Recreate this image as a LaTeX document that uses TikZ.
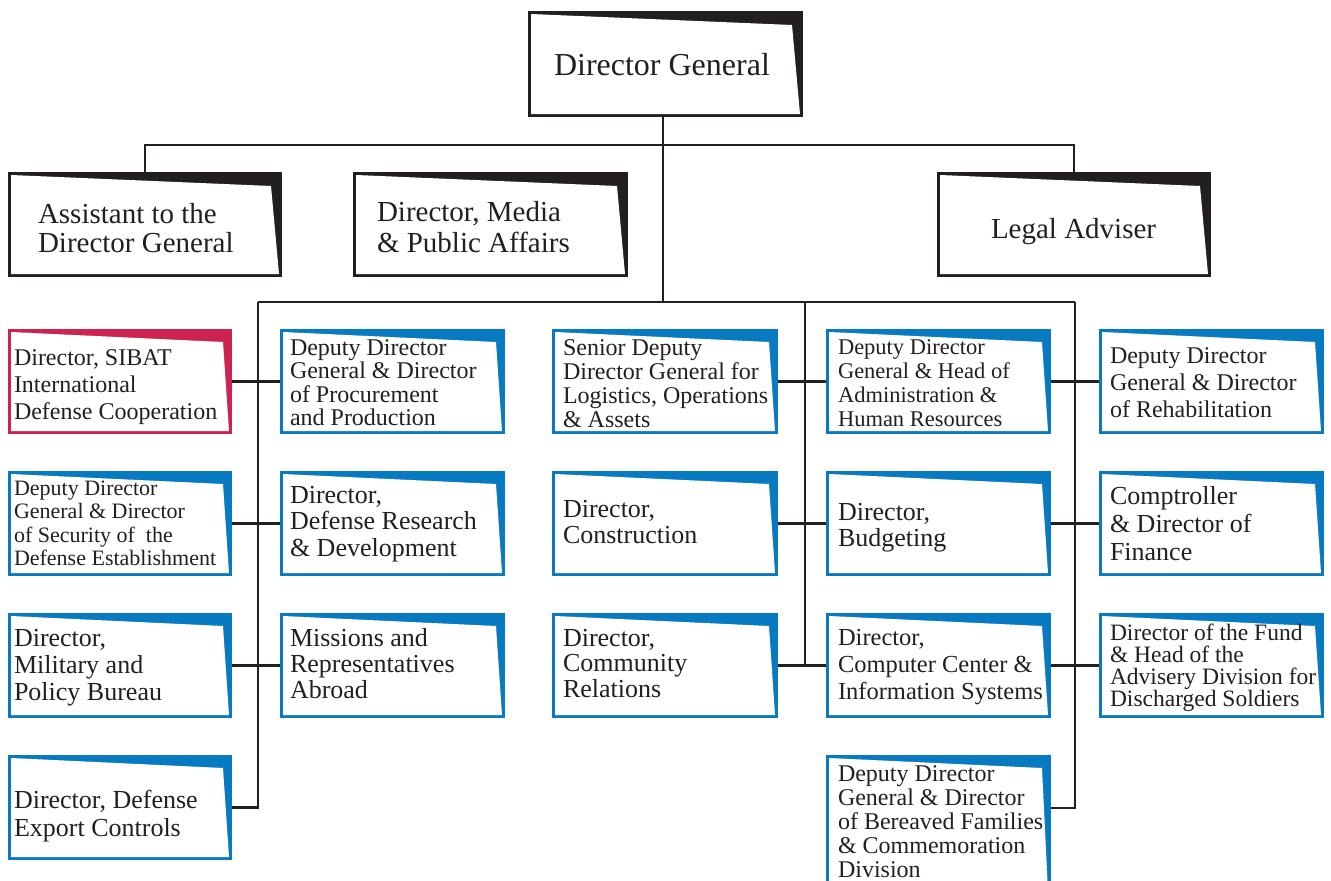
\documentclass[tikz,border=0pt]{standalone}
\usepackage{fontspec}
\setmainfont{Liberation Serif}
\definecolor{ink}{RGB}{35,31,32}
\definecolor{mblue}{RGB}{8,122,194}
\definecolor{mred}{RGB}{204,35,80}
\tikzset{
  obox/.style n args={3}{rectangle, inner sep=0pt, outer sep=0pt, fill=#1,
    path picture={\fill[white]
      ([xshift=3pt,yshift=-3pt]path picture bounding box.north west)
      -- ([xshift=-#2,yshift=-#3]path picture bounding box.north east)
      -- ([xshift=-3pt,yshift=3pt]path picture bounding box.south east)
      -- ([xshift=3pt,yshift=3pt]path picture bounding box.south west) -- cycle;}},
  topbox/.style={obox={ink}{11pt}{14pt}},
  bluebox/.style={obox={mblue}{9pt}{13pt}},
  redbox/.style={obox={mred}{9pt}{13pt}},
  conn/.style={draw=ink, line width=2.8pt},
  txt/.style={inner sep=0pt, outer sep=0pt, align=left, anchor=base west, text=ink},
}
\newcommand\orgbox[6]{\node[#2, minimum width={(#5-#3)*1pt}, minimum height={(#6-#4)*1pt}] (#1) at ({(#3+#5)/2},{(#4+#6)/2}) {};}
% #4 = baseline of the last line
\newcommand\orgtext[5]{\node[txt, font=#2] (#1) at (#3,#4) {#5};}
\newcommand\fs[2]{\fontsize{#1}{#2}\selectfont}
\begin{document}
\begin{tikzpicture}[x=1pt,y=-1pt]
\clip (0,0) rectangle (1331,881);
\fill[white] (0,0) rectangle (1331,881);
% junction coordinates
\coordinate (topj) at (663,145);
\coordinate (midj) at (663,302);
\coordinate (L) at (258,302);
\coordinate (M) at (805,302);
\coordinate (R) at (1075,302);
\coordinate (Lb) at (258,807.5);
\coordinate (Mb) at (805,665.5);
\coordinate (Rb) at (1075,808);
% boxes
\orgbox{dg}{topbox}{528}{11}{803}{117}
\orgbox{asst}{topbox}{8}{172}{282}{277}
\orgbox{media}{topbox}{353}{172}{628}{277}
\orgbox{legal}{topbox}{937}{172}{1211}{277}
% column 1
\orgbox{a1}{redbox}{8}{329}{232}{434}
\orgbox{a2}{bluebox}{8}{471}{232}{576}
\orgbox{a3}{bluebox}{8}{613}{232}{718}
\orgbox{a4}{bluebox}{8}{755}{232}{860}
% column 2
\orgbox{b1}{bluebox}{280}{329}{505}{434}
\orgbox{b2}{bluebox}{280}{471}{505}{576}
\orgbox{b3}{bluebox}{280}{613}{505}{718}
% column 3
\orgbox{c1}{bluebox}{552}{329}{778}{434}
\orgbox{c2}{bluebox}{552}{471}{778}{576}
\orgbox{c3}{bluebox}{552}{613}{778}{718}
% column 4
\orgbox{d1}{bluebox}{826}{329}{1051}{434}
\orgbox{d2}{bluebox}{826}{471}{1051}{576}
\orgbox{d3}{bluebox}{826}{613}{1051}{718}
\orgbox{d4}{bluebox}{826}{755}{1051}{895}
% column 5
\orgbox{e1}{bluebox}{1099}{329}{1324}{434}
\orgbox{e2}{bluebox}{1099}{471}{1324}{576}
\orgbox{e3}{bluebox}{1099}{613}{1324}{718}
% connectors
\draw[conn] (dg.south -| midj) -- (midj);
\draw[conn] (asst) |- (topj) -| (legal);
\draw[conn] (L) -- (R);
\draw[conn] (L) -- (Lb) -- (a4);
\draw[conn] (M) -- (Mb);
\draw[conn] (R) -- (Rb) -- (d4.east |- Rb);
\draw[conn] (a1) -- (b1);
\draw[conn] (a2) -- (b2);
\draw[conn] (a3) -- (b3);
\draw[conn] (c1) -- (d1);
\draw[conn] (c2) -- (d2);
\draw[conn] (c3) -- (d3);
\draw[conn] (d1) -- (e1);
\draw[conn] (d2) -- (e2);
\draw[conn] (d3) -- (e3);
% texts
\orgtext{dg-t}{\fs{32}{36}}{554}{75}{Director General}
\orgtext{asst-t}{\fs{29}{29}}{38}{252}{Assistant to the\\Director General}
\orgtext{media-t}{\fs{29}{31}}{377}{252}{Director, Media\\\& Public Affairs}
\orgtext{legal-t}{\fs{29}{31}}{991}{238}{Legal Adviser}
\orgtext{a1-t}{\fs{24}{27}}{14}{419}{Director, SIBAT\\International\\Defense Cooperation}
\orgtext{a2-t}{\fs{22}{23.5}}{14}{565.5}{Deputy Director\\General \& Director\\of Security of\ \ the\\Defense Establishment}
\orgtext{a3-t}{\fs{26}{27}}{14}{700}{Director,\\Military and\\Policy Bureau}
\orgtext{a4-t}{\fs{26}{28}}{14}{836}{Director, Defense\\Export Controls}
\orgtext{b1-t}{\fs{24}{23.5}}{290}{425.5}{Deputy Director\\General \& Director\\of Procurement\\and Production}
\orgtext{b2-t}{\fs{26}{26.5}}{290}{556}{Director,\\Defense Research\\\& Development}
\orgtext{b3-t}{\fs{26}{26}}{290}{698}{Missions and\\Representatives\\Abroad}
\orgtext{c1-t}{\fs{24}{24}}{563}{427}{Senior Deputy\\Director General for\\Logistics, Operations\\\& Assets}
\orgtext{c2-t}{\fs{26}{26}}{563}{543}{Director,\\Construction}
\orgtext{c3-t}{\fs{26}{25.5}}{563}{697}{Director,\\Community\\Relations}
\orgtext{d1-t}{\fs{22.5}{24}}{838}{426}{Deputy Director\\General \& Head of\\Administration \&\\Human Resources}
\orgtext{d2-t}{\fs{26}{26}}{838}{546}{Director,\\Budgeting}
\orgtext{d3-t}{\fs{24.5}{27}}{838}{699}{Director,\\Computer Center \&\\Information Systems}
\orgtext{d4-t}{\fs{24}{23.8}}{838}{877}{Deputy Director\\General \& Director\\of Bereaved Families\\\& Commemoration\\Division}
\orgtext{e1-t}{\fs{24}{27}}{1110}{417}{Deputy Director\\General \& Director\\of Rehabilitation}
\orgtext{e2-t}{\fs{26}{28}}{1110}{560}{Comptroller\\\& Director of\\Finance}
\orgtext{e3-t}{\fs{23.5}{21.7}}{1110}{706}{Director of the Fund\\\& Head of the\\Advisery Division for\\Discharged Soldiers}
\end{tikzpicture}
\end{document}
